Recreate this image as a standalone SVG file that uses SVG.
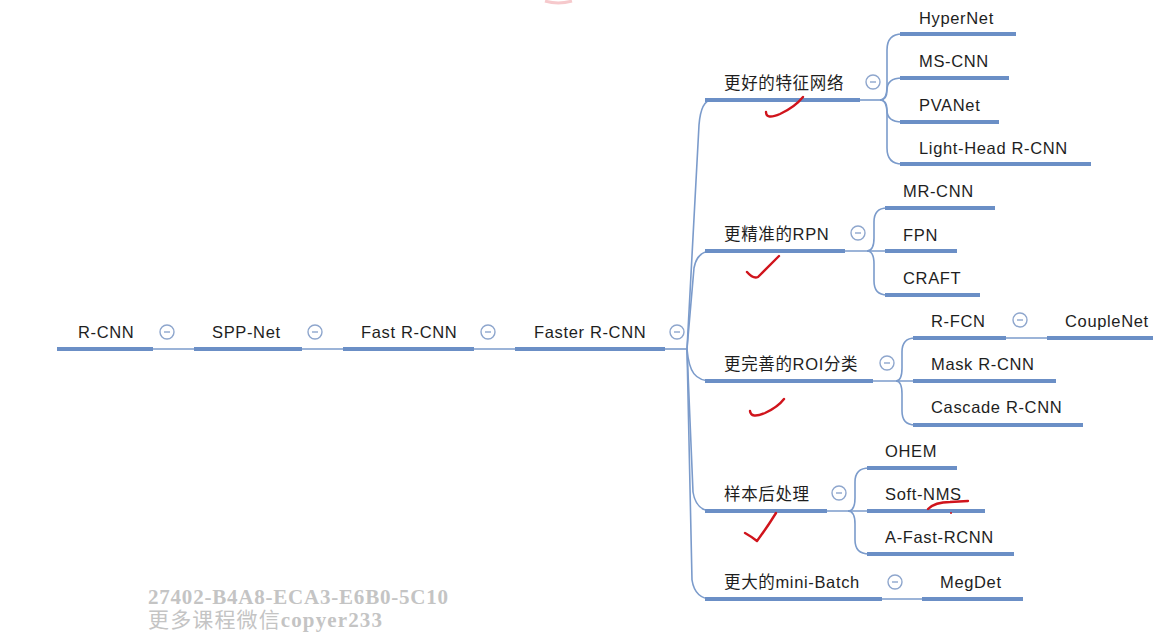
<svg xmlns="http://www.w3.org/2000/svg" width="1168" height="633" viewBox="0 0 1168 633">
<style>
.ul{stroke:#6b8fc6;stroke-width:4;fill:none}
.cn{stroke:#7b9bcb;stroke-width:1.6;fill:none}
.tg circle{fill:#fff;stroke:#8ea6cd;stroke-width:1.4}
.tg line{stroke:#8ea6cd;stroke-width:1.4}
.t{font-family:"Liberation Sans","Noto Sans CJK SC",sans-serif;font-size:16.5px;fill:#1e1e1e;letter-spacing:.65px}
.wm{font-family:"Liberation Serif","Noto Sans CJK SC",serif;font-weight:bold;font-size:21px;fill:#c4c4c4}
.rd{stroke:#d0141c;stroke-width:2.4;fill:none;stroke-linecap:round;stroke-linejoin:round}
</style>
<defs>
<g id="tog" class="tg"><circle r="7" cx="0" cy="0"/><line x1="-3" y1="0" x2="3" y2="0"/></g>
</defs>
<rect width="1168" height="633" fill="#fff"/>

<g id="connectors">
<line class="cn" x1="153" y1="349" x2="194" y2="349"/>
<line class="cn" x1="302" y1="349" x2="343" y2="349"/>
<line class="cn" x1="474" y1="349" x2="515" y2="349"/>
<line class="cn" x1="665" y1="349" x2="687" y2="349"/>
<path class="cn" d="M687,349 L699,125 Q701,100 712,100"/>
<path class="cn" d="M687,349 L694,268 Q697,251 712,251"/>
<path class="cn" d="M687,349 C689,372 695,381 712,381"/>
<path class="cn" d="M687,349 L693,492 Q696,511 712,511"/>
<path class="cn" d="M687,349 L692,580 Q695,599 712,599"/>
<line class="cn" x1="860" y1="100" x2="880" y2="100"/>
<path class="cn" d="M880,100 Q887,100 887,86 L887,50 Q887,34 902,34"/>
<path class="cn" d="M880,100 Q887,100 887,90 Q887,78 902,78"/>
<path class="cn" d="M880,100 Q887,100 887,110 Q887,122 902,122"/>
<path class="cn" d="M880,100 Q887,100 887,114 L887,148 Q887,164 902,164"/>
<line class="cn" x1="845" y1="251" x2="887" y2="251"/>
<path class="cn" d="M867,251 Q874,251 874,238 L874,222 Q874,208 887,208"/>
<path class="cn" d="M867,251 Q874,251 874,264 L874,281 Q874,295 887,295"/>
<line class="cn" x1="873" y1="381" x2="915" y2="381"/>
<path class="cn" d="M896,381 Q902,381 902,368 L902,352 Q902,338 915,338"/>
<path class="cn" d="M896,381 Q902,381 902,394 L902,411 Q902,425 915,425"/>
<line class="cn" x1="1006" y1="338" x2="1047" y2="338"/>
<line class="cn" x1="827" y1="511" x2="869" y2="511"/>
<path class="cn" d="M848,511 Q855,511 855,498 L855,482 Q855,468 869,468"/>
<path class="cn" d="M848,511 Q855,511 855,524 L855,540 Q855,554 869,554"/>
<line class="cn" x1="882" y1="599" x2="922" y2="599"/>
</g>

<g id="n-rcnn"><line class="ul" x1="57" y1="349" x2="153" y2="349"/><text class="t" x="78" y="338">R-CNN</text><use href="#tog" x="167" y="332"/></g>
<g id="n-sppnet"><line class="ul" x1="194" y1="349" x2="302" y2="349"/><text class="t" x="212" y="338">SPP-Net</text><use href="#tog" x="315" y="332"/></g>
<g id="n-fastrcnn"><line class="ul" x1="343" y1="349" x2="474" y2="349"/><text class="t" x="361" y="338">Fast R-CNN</text><use href="#tog" x="488" y="332"/></g>
<g id="n-fasterrcnn"><line class="ul" x1="515" y1="349" x2="665" y2="349"/><text class="t" x="534" y="338">Faster R-CNN</text><use href="#tog" x="677" y="332"/></g>

<g id="n-feature"><line class="ul" x1="705" y1="100" x2="860" y2="100"/><text class="t" x="724" y="89">更好的特征网络</text><use href="#tog" x="873" y="82"/></g>
<g id="n-hypernet"><line class="ul" x1="900" y1="34" x2="1016" y2="34"/><text class="t" x="919" y="24">HyperNet</text></g>
<g id="n-mscnn"><line class="ul" x1="900" y1="78" x2="1009" y2="78"/><text class="t" x="919" y="67">MS-CNN</text></g>
<g id="n-pvanet"><line class="ul" x1="900" y1="122" x2="999" y2="122"/><text class="t" x="919" y="111">PVANet</text></g>
<g id="n-lighthead"><line class="ul" x1="900" y1="164" x2="1091" y2="164"/><text class="t" x="919" y="154">Light-Head R-CNN</text></g>

<g id="n-rpn"><line class="ul" x1="705" y1="251" x2="845" y2="251"/><text class="t" x="724" y="240">更精准的RPN</text><use href="#tog" x="858" y="233"/></g>
<g id="n-mrcnn"><line class="ul" x1="885" y1="208" x2="995" y2="208"/><text class="t" x="903" y="197">MR-CNN</text></g>
<g id="n-fpn"><line class="ul" x1="885" y1="251" x2="957" y2="251"/><text class="t" x="903" y="241">FPN</text></g>
<g id="n-craft"><line class="ul" x1="885" y1="295" x2="980" y2="295"/><text class="t" x="903" y="284">CRAFT</text></g>

<g id="n-roi"><line class="ul" x1="705" y1="381" x2="873" y2="381"/><text class="t" x="724" y="370">更完善的ROI分类</text><use href="#tog" x="887" y="363"/></g>
<g id="n-rfcn"><line class="ul" x1="913" y1="338" x2="1006" y2="338"/><text class="t" x="931" y="327">R-FCN</text><use href="#tog" x="1020" y="320"/></g>
<g id="n-couplenet"><line class="ul" x1="1047" y1="338" x2="1153" y2="338"/><text class="t" x="1065" y="327">CoupleNet</text></g>
<g id="n-maskrcnn"><line class="ul" x1="913" y1="381" x2="1056" y2="381"/><text class="t" x="931" y="370">Mask R-CNN</text></g>
<g id="n-cascade"><line class="ul" x1="913" y1="425" x2="1083" y2="425"/><text class="t" x="931" y="413">Cascade R-CNN</text></g>

<g id="n-post"><line class="ul" x1="705" y1="511" x2="827" y2="511"/><text class="t" x="724" y="500">样本后处理</text><use href="#tog" x="839" y="493"/></g>
<g id="n-ohem"><line class="ul" x1="867" y1="468" x2="957" y2="468"/><text class="t" x="885" y="457">OHEM</text></g>
<g id="n-softnms"><line class="ul" x1="867" y1="511" x2="985" y2="511"/><text class="t" x="885" y="500">Soft-NMS</text></g>
<g id="n-afast"><line class="ul" x1="867" y1="554" x2="1014" y2="554"/><text class="t" x="885" y="543">A-Fast-RCNN</text></g>

<g id="n-minibatch"><line class="ul" x1="705" y1="599" x2="882" y2="599"/><text class="t" x="724" y="588">更大的mini-Batch</text><use href="#tog" x="895" y="582"/></g>
<g id="n-megdet"><line class="ul" x1="922" y1="599" x2="1023" y2="599"/><text class="t" x="940" y="588">MegDet</text></g>

<g id="marks">
<path class="rd" d="M766,112 Q766,120 780,114 Q795,107 803,97"/>
<path class="rd" d="M747,272 Q753,279 758,277 L779,256"/>
<path class="rd" d="M750,411 Q751,419 765,413 Q778,407 784,399"/>
<path class="rd" d="M745,533 Q752,537 757,541 Q768,526 776,513"/>
<path class="rd" d="M928,509 Q935,502 950,502 L968,501"/>
<circle cx="951" cy="513" r="1" fill="#d0141c"/>
<path d="M545,1 Q558,5 572,1" stroke="#f6c9cc" stroke-width="3" fill="none"/>
</g>

<g id="watermark">
<text class="wm" x="148" y="604" textLength="300">27402-B4A8-ECA3-E6B0-5C10</text>
<text class="wm" x="148" y="627" textLength="234" style="font-weight:normal">更多课程微信<tspan style="font-weight:bold">copyer233</tspan></text>
</g>
</svg>
